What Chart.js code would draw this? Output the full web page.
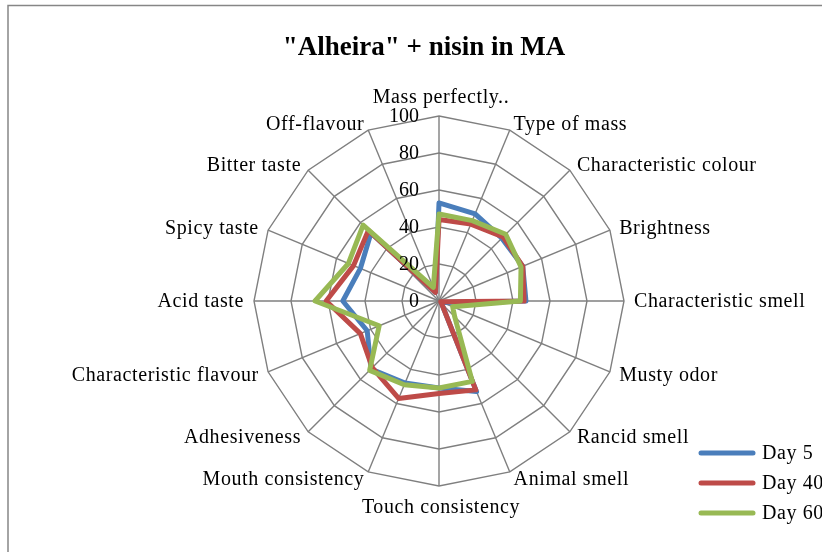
<!DOCTYPE html>
<html>
<head>
<meta charset="utf-8">
<title>"Alheira" + nisin in MA</title>
<script src="https://cdn.jsdelivr.net/npm/chart.js@4.4.1/dist/chart.umd.min.js"></script>
<style>
  html, body { margin: 0; padding: 0; background: #fff; }
  canvas { display: block; }
</style>
</head>
<body>
<canvas id="radar" width="822" height="552"></canvas>
<script>
// Sensory attributes, clockwise from the top
const attributes = [
    'Mass perfectly..', 'Type of mass', 'Characteristic colour', 'Brightness',
    'Characteristic smell', 'Musty odor', 'Rancid smell', 'Animal smell',
    'Touch consistency', 'Mouth consistency', 'Adhesiveness', 'Characteristic flavour',
    'Acid taste', 'Spicy taste', 'Bitter taste', 'Off-flavour'
];

// Panel scores (0-100) per storage day
const day5  = [53, 51, 48, 49, 47, 2, 2, 53, 47, 48, 52, 42, 52, 46, 52, 5];
const day40 = [44, 45, 49, 49, 46, 1, 2, 52, 50, 57, 51, 46, 61, 50, 54, 5];
const day60 = [47, 47, 51, 48, 44, 8, 12, 47, 47, 49, 53, 35, 67, 53, 58, 8];

const tickValues = [0, 20, 40, 60, 80, 100];
const chartTitle = '"Alheira" + nisin in MA';

const SERIF = '"Liberation Serif", "Times New Roman", serif';
const GRID = '#7f7f7f';
const LINE_W = 5;

// Frame, title, axis numbers, spoke names and legend
const decorations = {
    id: 'decorations',
    beforeDraw(chart) {
        const ctx = chart.ctx;
        ctx.save();
        ctx.strokeStyle = '#868686';
        ctx.lineWidth = 1.5;
        ctx.strokeRect(8, 5.5, 900, 600);
        ctx.restore();
    },
    afterDraw(chart) {
        const ctx = chart.ctx;
        const scale = chart.scales.r;
        ctx.save();
        ctx.fillStyle = '#000';

        // title
        ctx.font = 'bold 27px ' + SERIF;
        ctx.textAlign = 'center';
        ctx.textBaseline = 'middle';
        ctx.fillText(chartTitle, 424, 48);

        // value ticks, right-aligned beside the vertical spoke
        ctx.font = '20px ' + SERIF;
        ctx.textAlign = 'right';
        tickValues.forEach(v => {
            const y = scale.yCenter - scale.getDistanceFromCenterForValue(v);
            ctx.fillText(String(v), scale.xCenter - 20, y + 1);
        });

        // spoke names (Excel spaces its letters a little wider)
        ctx.letterSpacing = '0.6px';
        chart.data.labels.forEach((text, i) => {
            const angle = scale.getIndexAngle(i);
            const sin = Math.sin(angle), cos = Math.cos(angle);
            const p = scale.getPointPosition(i, scale.drawingArea);
            if (Math.abs(sin) < 0.01) {
                ctx.textAlign = 'center';
                ctx.fillText(text, p.x + 2, p.y - Math.sign(cos) * 20 + 2);
            } else {
                ctx.textAlign = sin > 0 ? 'left' : 'right';
                ctx.fillText(text, p.x + sin * 10, p.y - cos * 7 + 1);
            }
        });

        // legend
        ctx.textAlign = 'left';
        ctx.lineCap = 'round';
        chart.data.datasets.forEach((ds, i) => {
            const y = 453 + i * 30;
            ctx.strokeStyle = ds.borderColor;
            ctx.lineWidth = LINE_W;
            ctx.beginPath();
            ctx.moveTo(701, y);
            ctx.lineTo(753, y);
            ctx.stroke();
            ctx.fillText(ds.label, 762, y + 1);
        });
        ctx.restore();
    }
};

new Chart(document.getElementById('radar'), {
    type: 'radar',
    data: {
        labels: attributes,
        datasets: [
            { label: 'Day 5',  data: day5,  borderColor: '#4A7EBB', order: 2 },
            { label: 'Day 40', data: day40, borderColor: '#BE4B48', order: 1 },
            { label: 'Day 60', data: day60, borderColor: '#98B954', order: 0 }
        ]
    },
    options: {
        responsive: false,
        animation: false,
        layout: { padding: { left: 254, right: 198, top: 116, bottom: 66 } },
        elements: {
            line: { borderWidth: LINE_W, fill: false, tension: 0, borderJoinStyle: 'round' },
            point: { radius: 0, hoverRadius: 0 }
        },
        scales: {
            r: {
                min: 0,
                max: 100,
                ticks: { stepSize: 20, display: false },
                grid: { color: GRID, lineWidth: 1.4 },
                angleLines: { color: GRID, lineWidth: 1.4 },
                pointLabels: { display: false }
            }
        },
        plugins: {
            legend: { display: false },
            title: { display: false },
            tooltip: { enabled: false }
        }
    },
    plugins: [decorations]
});
</script>
</body>
</html>
